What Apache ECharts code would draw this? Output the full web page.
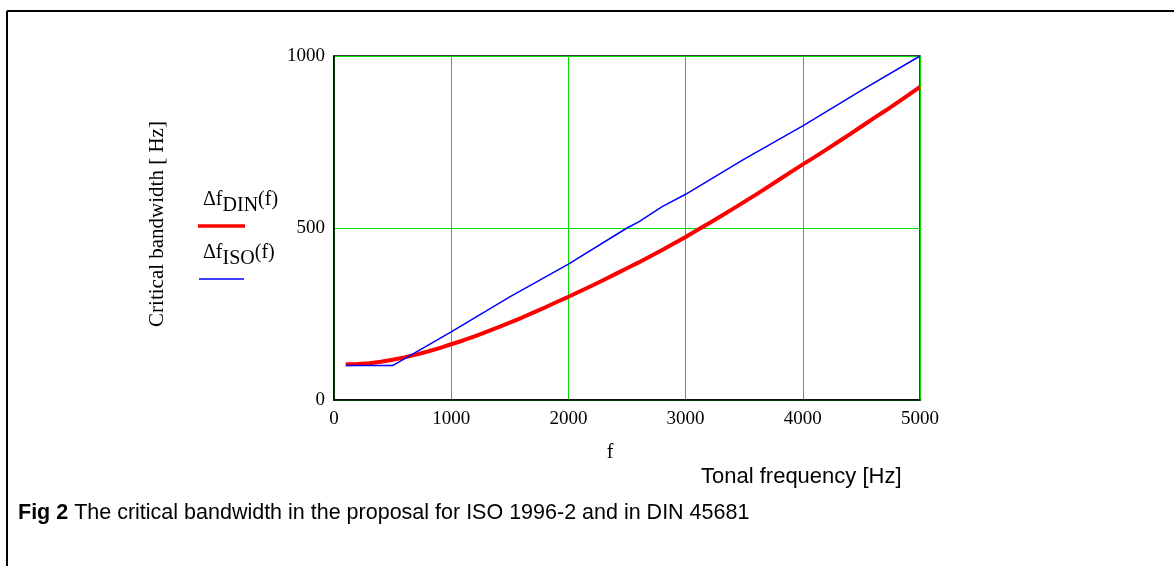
<!DOCTYPE html>
<html><head><meta charset="utf-8">
<script src="https://cdn.jsdelivr.net/npm/echarts@6/dist/echarts.min.js"></script>
<style>html,body{margin:0;padding:0;background:#fff}#c{width:1174px;height:566px}</style>
</head><body><div id="c"></div>
<script>
const xTicks = [0, 1000, 2000, 3000, 4000, 5000];
const yTicks = [0, 500, 1000];
const dinFreq = [100,200,300,400,500,600,700,800,900,1000,1100,1200,1300,1400,1500,1600,1700,1800,1900,2000,2100,2200,2300,2400,2500,2600,2700,2800,2900,3000,3100,3200,3300,3400,3500,3600,3700,3800,3900,4000,4100,4200,4300,4400,4500,4600,4700,4800,4900,5000];
const dinValues = [104,105,107,111,117,124,132,141,151,162,173,185,198,211,225,239,254,269,285,300,316,332,349,366,383,400,418,436,455,474,494,514,534,555,576,597,619,641,663,685,706,728,750,772,795,818,840,863,886,910];
const isoFreq = [100,500,1000,1500,2000,2500,2600,2800,3000,3500,4000,4500,5000];
const isoValues = [100,100,198,300,395,500,518,562,598,700,797,900,1000];

const serif = 'Liberation Serif';
const chart = echarts.init(document.getElementById('c'));
chart.setOption({
  animation: false,
  backgroundColor: '#fff',
  grid: {left: 334, right: 254, top: 56, bottom: 166, show: true, borderColor: '#000', borderWidth: 1.5},
  xAxis: {
    type: 'value', min: 0, max: 5000, interval: 1000,
    axisLine: {show: true, onZero: false, lineStyle: {color: '#000', width: 1.5}},
    axisTick: {show: false},
    splitLine: {show: true, lineStyle: {color: '#00e000', width: 1}},
    axisLabel: {color: '#000', fontFamily: serif, fontSize: 19, margin: 10,
      formatter: v => xTicks.includes(v) ? String(v) : ''}
  },
  yAxis: {
    type: 'value', min: 0, max: 1000, interval: 500,
    axisLine: {show: true, lineStyle: {color: '#000', width: 1.5}},
    axisTick: {show: false},
    splitLine: {show: true, lineStyle: {color: '#00e000', width: 1}},
    axisLabel: {color: '#000', fontFamily: serif, fontSize: 19, margin: 9, padding: [4,0,0,0],
      formatter: v => yTicks.includes(v) ? String(v) : ''}
  },
  series: [
    {type: 'line', data: dinFreq.map((f, i) => [f, dinValues[i]]), showSymbol: false,
      lineStyle: {color: '#ff0000', width: 4}, z: 3},
    {type: 'line', data: isoFreq.map((f, i) => [f, isoValues[i]]), showSymbol: false,
      lineStyle: {color: '#0000ff', width: 1.5}, z: 4}
  ],
  graphic: [
    {type: 'line', shape: {x1: 7, y1: 11, x2: 1174, y2: 11}, style: {stroke: '#000', lineWidth: 2}},
    {type: 'line', shape: {x1: 7, y1: 11, x2: 7, y2: 566}, style: {stroke: '#000', lineWidth: 2}},
    {type: 'text', x: 157, y: 224, rotation: Math.PI / 2, style: {text: 'Critical bandwidth [ Hz]', font: '21px "Liberation Serif"', fill: '#000', align: 'center', verticalAlign: 'middle'}},
    {type: 'text', x: 203, y: 184, style: {text: '{a|Δf}{s|DIN}{a|(f)}', fill: '#000',
      rich: {a: {fontFamily: serif, fontSize: 20, padding: [0,0,0,0]},
             s: {fontFamily: serif, fontSize: 20, padding: [12,0,0,0]}}}},
    {type: 'line', shape: {x1: 198, y1: 226, x2: 245, y2: 226}, style: {stroke: '#ff0000', lineWidth: 3.5}},
    {type: 'text', x: 203, y: 237, style: {text: '{a|Δf}{s|ISO}{a|(f)}', fill: '#000',
      rich: {a: {fontFamily: serif, fontSize: 20, padding: [0,0,0,0]},
             s: {fontFamily: serif, fontSize: 20, padding: [12,0,0,0]}}}},
    {type: 'line', shape: {x1: 199, y1: 279, x2: 244, y2: 279}, style: {stroke: '#0000ff', lineWidth: 1.5}},
    {type: 'text', x: 610, y: 453, style: {text: 'f', font: '20px "Liberation Serif"', fill: '#000', align: 'center', verticalAlign: 'middle'}},
    {type: 'text', x: 701, y: 477, style: {text: 'Tonal frequency [Hz]', font: '22px "Liberation Sans"', fill: '#000', verticalAlign: 'middle'}},
    {type: 'text', x: 18, y: 513, style: {text: '{b|Fig 2} The critical bandwidth in the proposal for ISO 1996-2 and in DIN 45681', fill: '#000', font: '21.5px "Liberation Sans"', verticalAlign: 'middle',
      rich: {b: {fontFamily: 'Liberation Sans', fontWeight: 'bold', fontSize: 21.5}}}}
  ]
});
</script></body></html>
